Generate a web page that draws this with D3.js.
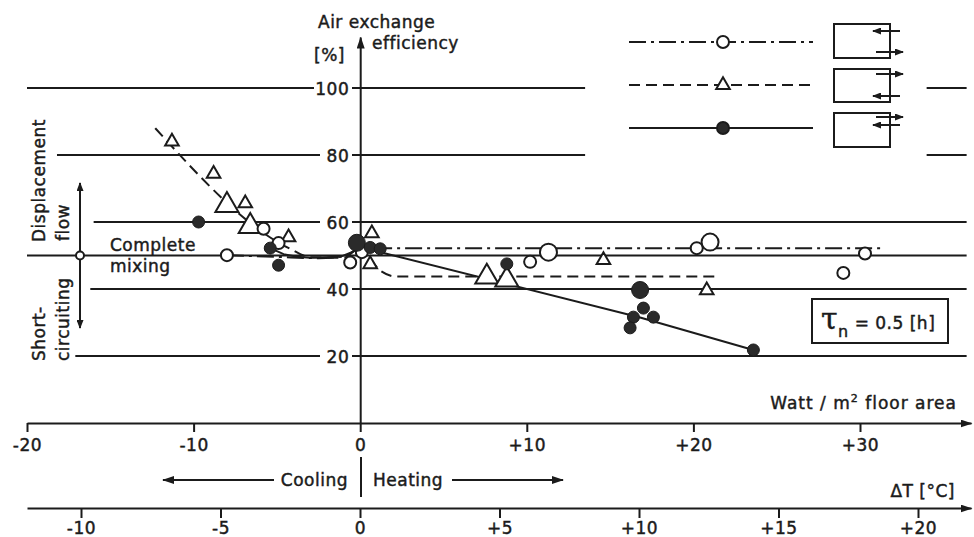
<!DOCTYPE html>
<html>
<head>
<meta charset="utf-8">
<script src="https://cdn.jsdelivr.net/npm/d3@7"></script>
<style>
body { margin: 0; background: #fff; }
svg text { font-family: "DejaVu Sans", sans-serif; font-size: 17px; fill: #1b1b1b; stroke: #1b1b1b; stroke-width: 0.45px; letter-spacing: 0.5px; }
</style>
</head>
<body>
<div id="chart"></div>
<script>
// axis ticks
const wattTicks = [-20, -10, 0, 10, 20, 30];
const wattLabels = ["-20", "-10", "0", "+10", "+20", "+30"];
const deltaTTicks = [-10, -5, 0, 5, 10, 15, 20];
const deltaTLabels = ["-10", "-5", "0", "+5", "+10", "+15", "+20"];
const efficiencyTicks = [20, 40, 60, 80, 100];

// measurements: [watt per m2, air exchange efficiency %, repeats]
const openCircles = [
    [-8.0, 50.1, 1], [-5.8, 58.0, 1], [-4.9, 53.7, 1], [-0.6, 47.9, 1],
    [0.1, 51.0, 1], [10.2, 48.1, 1], [11.3, 51.0, 2], [20.2, 52.2, 1],
    [21.0, 54.0, 2], [29.0, 44.8, 1], [30.3, 50.6, 1]
];
const triangles = [
    [-11.3, 84.0, 1], [-8.8, 74.4, 1], [-8.0, 65.0, 2], [-6.9, 65.6, 1],
    [-6.6, 58.7, 2], [-4.3, 55.4, 1], [0.7, 56.6, 1], [0.6, 47.4, 1],
    [7.6, 43.6, 2], [8.8, 42.7, 2], [14.6, 48.6, 1], [20.8, 39.6, 1]
];
const filledCircles = [
    [-9.7, 60.0, 1], [-5.4, 52.2, 1], [-4.9, 47.1, 1], [-0.2, 53.8, 2],
    [0.6, 52.4, 1], [1.2, 52.0, 1], [8.8, 47.5, 1], [16.8, 39.7, 2],
    [17.0, 34.3, 1], [16.4, 31.6, 1], [17.6, 31.6, 1], [16.2, 28.4, 1],
    [23.6, 21.8, 1]
];

// drawn trend curves: [watt per m2, efficiency %]
const openCurve = [[-8.0, 50.1], [-5, 49.6], [-2.5, 49.2], [-1, 49.8], [0, 52], [1, 52.2], [31.5, 52.2]];
const triangleCurve = [[-12.3, 88], [-4.2, 52], [-3, 49.5], [-1, 49.3], [0, 52.3], [0.6, 49], [1.2, 45.5], [2.2, 43.7], [21.5, 43.7]];
const filledCurve = [[-5.4, 52.2], [-4.6, 50.4], [-3.8, 49.6], [-3, 49.3], [-1.2, 49.6], [-0.5, 51], [0, 52.5], [16.8, 31.5], [23.6, 21.8]];

const ink = "#1b1b1b";
const svg = d3.select("#chart").append("svg")
    .attr("width", 974)
    .attr("height", 537);

const defs = svg.append("defs");
defs.append("marker")
    .attr("id", "arrow")
    .attr("viewBox", "0 0 12 8")
    .attr("refX", 11).attr("refY", 4)
    .attr("markerWidth", 12).attr("markerHeight", 8)
    .attr("markerUnits", "userSpaceOnUse")
    .attr("orient", "auto-start-reverse")
    .append("path")
        .attr("d", "M0,0 L12,4 L0,8 Z")
        .attr("fill", ink);
defs.append("marker")
    .attr("id", "arrowSmall")
    .attr("viewBox", "0 0 9 7")
    .attr("refX", 8).attr("refY", 3.5)
    .attr("markerWidth", 9).attr("markerHeight", 7)
    .attr("markerUnits", "userSpaceOnUse")
    .attr("orient", "auto-start-reverse")
    .append("path")
        .attr("d", "M0,0 L9,3.5 L0,7 Z")
        .attr("fill", ink);

const x = d3.scaleLinear().domain([-20, 30]).range([27, 860]);
const y = d3.scaleLinear().domain([0, 100]).range([423, 88]);
const t = d3.scaleLinear().domain([-10, 20]).range([81, 918]);

// horizontal reference lines
const gridLayout = {
    100: { from: -20, to: 13.5, extra: [34, 36.4], labelGap: 314 },
    80: { from: -18.2, to: 13.5, extra: [34, 36.4], labelGap: 320 },
    60: { from: -16, to: 36.4, extra: null, labelGap: 320 },
    40: { from: -16.2, to: 36.4, extra: null, labelGap: 320 },
    20: { from: -17.1, to: 36.4, extra: null, labelGap: 320 }
};
const grid = svg.append("g")
    .attr("stroke", ink)
    .attr("stroke-width", 2);
efficiencyTicks.forEach(function(v) {
    const g = gridLayout[v];
    grid.append("line")
        .attr("x1", x(g.from)).attr("x2", g.labelGap)
        .attr("y1", y(v)).attr("y2", y(v));
    grid.append("line")
        .attr("x1", 352).attr("x2", x(g.to))
        .attr("y1", y(v)).attr("y2", y(v));
    if (g.extra) {
        grid.append("line")
            .attr("x1", x(g.extra[0])).attr("x2", x(g.extra[1]))
            .attr("y1", y(v)).attr("y2", y(v));
    }
});
// complete mixing line
grid.append("line")
    .attr("x1", x(-20)).attr("x2", x(36.4))
    .attr("y1", y(50)).attr("y2", y(50));

// y axis
const yAxisScale = d3.scaleLinear().domain([0, y.invert(37)]).range([423, 37]);
const yAxis = svg.append("g")
    .attr("transform", "translate(" + x(0) + ",0)")
    .call(d3.axisLeft(yAxisScale).tickValues(efficiencyTicks).tickSize(0).tickSizeOuter(0).tickPadding(11));
yAxis.select(".domain").attr("stroke", ink).attr("stroke-width", 2).attr("marker-end", "url(#arrow)");
yAxis.selectAll("text").attr("font-size", 17).attr("font-family", "DejaVu Sans").attr("fill", ink).attr("dy", "0.36em");

// watt axis
const wattAxisScale = d3.scaleLinear().domain([-20, x.invert(971)]).range([27, 971]);
const wattAxis = svg.append("g")
    .attr("transform", "translate(0," + y(0) + ")")
    .call(d3.axisBottom(wattAxisScale).tickValues(wattTicks)
        .tickFormat(function(d, i) { return wattLabels[i]; })
        .tickSize(9).tickSizeOuter(0).tickPadding(7));
wattAxis.select(".domain").attr("stroke", ink).attr("stroke-width", 2).attr("marker-end", "url(#arrow)");
wattAxis.selectAll(".tick line").attr("stroke", ink).attr("stroke-width", 2);
wattAxis.selectAll("text").attr("font-size", 17).attr("font-family", "DejaVu Sans").attr("fill", ink);

// delta T axis
const tAxisScale = d3.scaleLinear().domain([t.invert(27), t.invert(971)]).range([27, 971]);
const tAxis = svg.append("g")
    .attr("transform", "translate(0,508)")
    .call(d3.axisBottom(tAxisScale).tickValues(deltaTTicks)
        .tickFormat(function(d, i) { return deltaTLabels[i]; })
        .tickSize(10).tickSizeOuter(0).tickPadding(4));
tAxis.select(".domain").attr("stroke", ink).attr("stroke-width", 2).attr("marker-end", "url(#arrow)");
tAxis.selectAll(".tick line").attr("stroke", ink).attr("stroke-width", 2);
tAxis.selectAll("text").attr("font-size", 17).attr("font-family", "DejaVu Sans").attr("fill", ink);

// trend curves
const smooth = d3.line()
    .x(function(d) { return x(d[0]); })
    .y(function(d) { return y(d[1]); })
    .curve(d3.curveMonotoneX);
const straight = d3.line()
    .x(function(d) { return x(d[0]); })
    .y(function(d) { return y(d[1]); });
const lineStyles = [
    { data: openCurve, dash: "17,5,3,5", gen: smooth },
    { data: triangleCurve, dash: "11,6", gen: smooth },
    { data: filledCurve, dash: null, gen: straight }
];
lineStyles.forEach(function(s) {
    svg.append("path")
        .attr("d", s.gen(s.data))
        .attr("fill", "none")
        .attr("stroke", ink)
        .attr("stroke-width", 2)
        .attr("stroke-dasharray", s.dash);
});

// markers
const radius = d3.scaleOrdinal().domain([1, 2]).range([6, 8.5]);
const triArea = d3.scaleOrdinal().domain([1, 2]).range([80, 230]);

svg.append("g").selectAll("path")
    .data(triangles)
    .enter()
    .append("path")
        .attr("d", function(d) { return d3.symbol(d3.symbolTriangle, triArea(d[2]))(); })
        .attr("transform", function(d) { return "translate(" + x(d[0]) + "," + y(d[1]) + ")"; })
        .attr("fill", "#fff")
        .attr("stroke", ink)
        .attr("stroke-width", 2);

svg.append("g").selectAll("circle")
    .data(openCircles)
    .enter()
    .append("circle")
        .attr("cx", function(d) { return x(d[0]); })
        .attr("cy", function(d) { return y(d[1]); })
        .attr("r", function(d) { return radius(d[2]); })
        .attr("fill", "#fff")
        .attr("stroke", ink)
        .attr("stroke-width", 2);

svg.append("g").selectAll("circle")
    .data(filledCircles)
    .enter()
    .append("circle")
        .attr("cx", function(d) { return x(d[0]); })
        .attr("cy", function(d) { return y(d[1]); })
        .attr("r", function(d) { return radius(d[2]); })
        .attr("fill", "#2a2a2a")
        .attr("stroke", ink)
        .attr("stroke-width", 1);

// axis titles
svg.append("text").attr("x", 318).attr("y", 28).text("Air exchange");
svg.append("text").attr("x", 372).attr("y", 49).text("efficiency");
svg.append("text").attr("x", 314).attr("y", 61).attr("font-size", 18).text("[%]");
svg.append("text").attr("x", 957).attr("y", 409).attr("text-anchor", "end")
    .style("letter-spacing", "1px")
    .html("Watt / m<tspan dy='-7' font-size='11'>2</tspan><tspan dy='7'> floor area</tspan>");
svg.append("text").attr("x", 955).attr("y", 497).attr("text-anchor", "end").text("ΔT [°C]");

// cooling / heating
svg.append("line").attr("x1", 361).attr("x2", 361).attr("y1", 457).attr("y2", 497)
    .attr("stroke", ink).attr("stroke-width", 2);
svg.append("text").attr("x", 348).attr("y", 486).attr("text-anchor", "end").text("Cooling");
svg.append("text").attr("x", 373).attr("y", 486).text("Heating");
svg.append("line").attr("x1", 274).attr("x2", 163).attr("y1", 480).attr("y2", 480)
    .attr("stroke", ink).attr("stroke-width", 2).attr("marker-end", "url(#arrow)");
svg.append("line").attr("x1", 452).attr("x2", 563).attr("y1", 480).attr("y2", 480)
    .attr("stroke", ink).attr("stroke-width", 2).attr("marker-end", "url(#arrow)");

// flow regime annotation
svg.append("line").attr("x1", 80).attr("x2", 80).attr("y1", 255).attr("y2", 183)
    .attr("stroke", ink).attr("stroke-width", 2).attr("marker-end", "url(#arrowSmall)");
svg.append("line").attr("x1", 80).attr("x2", 80).attr("y1", 255).attr("y2", 328)
    .attr("stroke", ink).attr("stroke-width", 2).attr("marker-end", "url(#arrowSmall)");
svg.append("circle").attr("cx", 80).attr("cy", y(50)).attr("r", 4)
    .attr("fill", "#fff").attr("stroke", ink).attr("stroke-width", 2);
svg.append("text").attr("transform", "translate(45,242) rotate(-90)").text("Displacement");
svg.append("text").attr("transform", "translate(69,241) rotate(-90)").text("flow");
svg.append("text").attr("transform", "translate(45,361) rotate(-90)").text("Short-");
svg.append("text").attr("transform", "translate(69,361) rotate(-90)").text("circuiting");
svg.append("text").attr("x", 110).attr("y", 251).text("Complete");
svg.append("text").attr("x", 110).attr("y", 272).text("mixing");

// legend
const legend = svg.append("g");
const legendRows = [
    { y: 42, dash: "17,5,3,5", marker: "open", arrows: [[900, 31, 873], [876, 52, 903]], box: [24, 58] },
    { y: 85, dash: "11,6", marker: "triangle", arrows: [[876, 74, 903], [900, 96, 873]], box: [69, 102] },
    { y: 128, dash: null, marker: "filled", arrows: [[876, 117, 903], [900, 125, 873]], box: [113, 147] }
];
legendRows.forEach(function(r) {
    legend.append("line").attr("x1", 629).attr("x2", 813).attr("y1", r.y).attr("y2", r.y)
        .attr("stroke", ink).attr("stroke-width", 2).attr("stroke-dasharray", r.dash);
    if (r.marker === "triangle") {
        legend.append("path")
            .attr("d", d3.symbol(d3.symbolTriangle, 80)())
            .attr("transform", "translate(723," + r.y + ")")
            .attr("fill", "#fff").attr("stroke", ink).attr("stroke-width", 2);
    } else {
        legend.append("circle").attr("cx", 723).attr("cy", r.y).attr("r", 6)
            .attr("fill", r.marker === "filled" ? "#2a2a2a" : "#fff")
            .attr("stroke", ink).attr("stroke-width", 2);
    }
    legend.append("rect").attr("x", 834).attr("y", r.box[0])
        .attr("width", 56).attr("height", r.box[1] - r.box[0])
        .attr("fill", "none").attr("stroke", ink).attr("stroke-width", 2);
    r.arrows.forEach(function(a) {
        legend.append("line").attr("x1", a[0]).attr("x2", a[2]).attr("y1", a[1]).attr("y2", a[1])
            .attr("stroke", ink).attr("stroke-width", 2).attr("marker-end", "url(#arrowSmall)");
    });
});

// time constant box
svg.append("rect").attr("x", 812).attr("y", 299).attr("width", 136).attr("height", 44)
    .attr("fill", "#fff").attr("stroke", ink).attr("stroke-width", 2);
svg.append("text").attr("x", 821).attr("y", 329)
    .html("<tspan font-size='30' font-family='DejaVu Serif'>τ</tspan><tspan font-size='16' dy='8'>n</tspan><tspan dy='-8' font-size='17'> = 0.5 [h]</tspan>");
</script>
</body>
</html>
